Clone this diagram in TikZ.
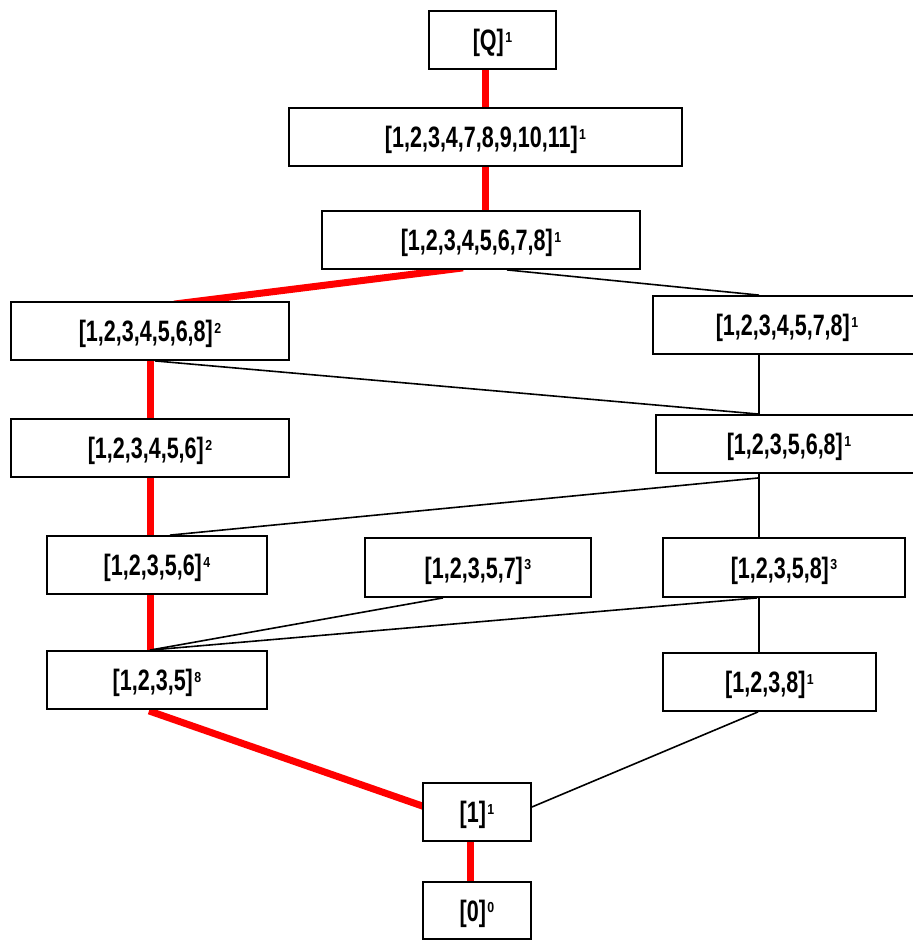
\documentclass[tikz,border=0pt]{standalone}
\usepackage{fontspec}
\usetikzlibrary{backgrounds}
% condensed bold face for the set labels, plainer one for the exponents
\newfontfamily\lblfont{Liberation Sans}[FakeStretch=0.73]
\newfontfamily\supfnt{Liberation Sans}[FakeStretch=0.85]
\newcommand\setlbl[2]{{\lblfont\bfseries\fontsize{29.5}{30}\selectfont #1}\hspace{1.5pt}\raisebox{8.5pt}{\supfnt\bfseries\fontsize{14.5}{14.5}\selectfont #2}}

\begin{document}
\begin{tikzpicture}[x=1pt,y=-1pt,
  box/.style={draw=black, line width=1.8pt, fill=white, inner sep=0pt,
    minimum height=58pt, text height=21pt, text depth=0pt},
  hot/.style={draw=red, line width=7pt},
  thinline/.style={draw=black, line width=1.6pt}]
\useasboundingbox (0,0) rectangle (913,940);

% lattice nodes
\node[box, minimum width=127pt] (b1)  at (492.5,40)  {\setlbl{[Q]}{1}};
\node[box, minimum width=393pt] (b2)  at (485.5,137) {\setlbl{[1,2,3,4,7,8,9,10,11]}{1}};
\node[box, minimum width=318pt] (b3)  at (481,240)   {\setlbl{[1,2,3,4,5,6,7,8]}{1}};
\node[box, minimum width=278pt] (b4)  at (150,331)   {\setlbl{[1,2,3,4,5,6,8]}{2}};
\node[box, minimum width=268pt] (b5)  at (787,325)   {\setlbl{[1,2,3,4,5,7,8]}{1}};
\node[box, minimum width=278pt] (b6)  at (150,448)   {\setlbl{[1,2,3,4,5,6]}{2}};
\node[box, minimum width=266pt] (b7)  at (789,444)   {\setlbl{[1,2,3,5,6,8]}{1}};
\node[box, minimum width=220pt] (b8)  at (157,565)   {\setlbl{[1,2,3,5,6]}{4}};
\node[box, minimum width=226pt, minimum height=59pt] (b9)  at (478,567.5) {\setlbl{[1,2,3,5,7]}{3}};
\node[box, minimum width=242pt, minimum height=59pt] (b10) at (784,567.5) {\setlbl{[1,2,3,5,8]}{3}};
\node[box, minimum width=220pt] (b11) at (157,680)   {\setlbl{[1,2,3,5]}{8}};
\node[box, minimum width=213pt] (b12) at (769.5,682) {\setlbl{[1,2,3,8]}{1}};
\node[box, minimum width=108pt] (b13) at (477,812)   {\setlbl{[1]}{1}};
\node[box, minimum width=108pt, minimum height=57pt] (b14) at (477,910.5) {\setlbl{[0]}{0}};

% connectors (behind the boxes)
\begin{scope}[on background layer]
  % highlighted chain
  \draw[hot] ([xshift=-7.5]b1.south) -- ([xshift=-0.5]b2.north);
  \draw[hot] ([xshift=-0.5]b2.south) -- ([xshift=4]b3.north);
  \draw[hot] ([xshift=-18,yshift=2]b3.south) -- ([xshift=24,yshift=-3]b4.north);
  \draw[hot] (b4.south) -- (b6.north);
  \draw[hot] (b6.south) -- ([xshift=-7]b8.north);
  \draw[hot] ([xshift=-7]b8.south) -- ([xshift=-7]b11.north);
  \draw[hot] ([xshift=-8,yshift=-1]b11.south) -- ([xshift=4,yshift=4.7]b13.west);
  \draw[hot] ([xshift=-7]b13.south) -- ([xshift=-7]b14.north);
  % remaining edges
  \draw[thinline] ([xshift=26]b3.south) -- ([xshift=-28]b5.north);
  \draw[thinline] ([xshift=5]b4.south) -- ([xshift=-30]b7.north);
  \draw[thinline] ([xshift=-28]b5.south) -- ([xshift=-30]b7.north);
  \draw[thinline] ([xshift=-30,yshift=-4]b7.south) -- ([xshift=13]b8.north);
  \draw[thinline] ([xshift=-30]b7.south) -- ([xshift=-25]b10.north);
  \draw[thinline] ([xshift=-35]b9.south) -- ([xshift=-7]b11.north);
  \draw[thinline] ([xshift=-27]b10.south) -- ([xshift=-7]b11.north);
  \draw[thinline] ([xshift=-25]b10.south) -- ([xshift=-10.5]b12.north);
  \draw[thinline] ([xshift=-11.5]b12.south) -- ([yshift=5]b13.east);
\end{scope}
\end{tikzpicture}
\end{document}
